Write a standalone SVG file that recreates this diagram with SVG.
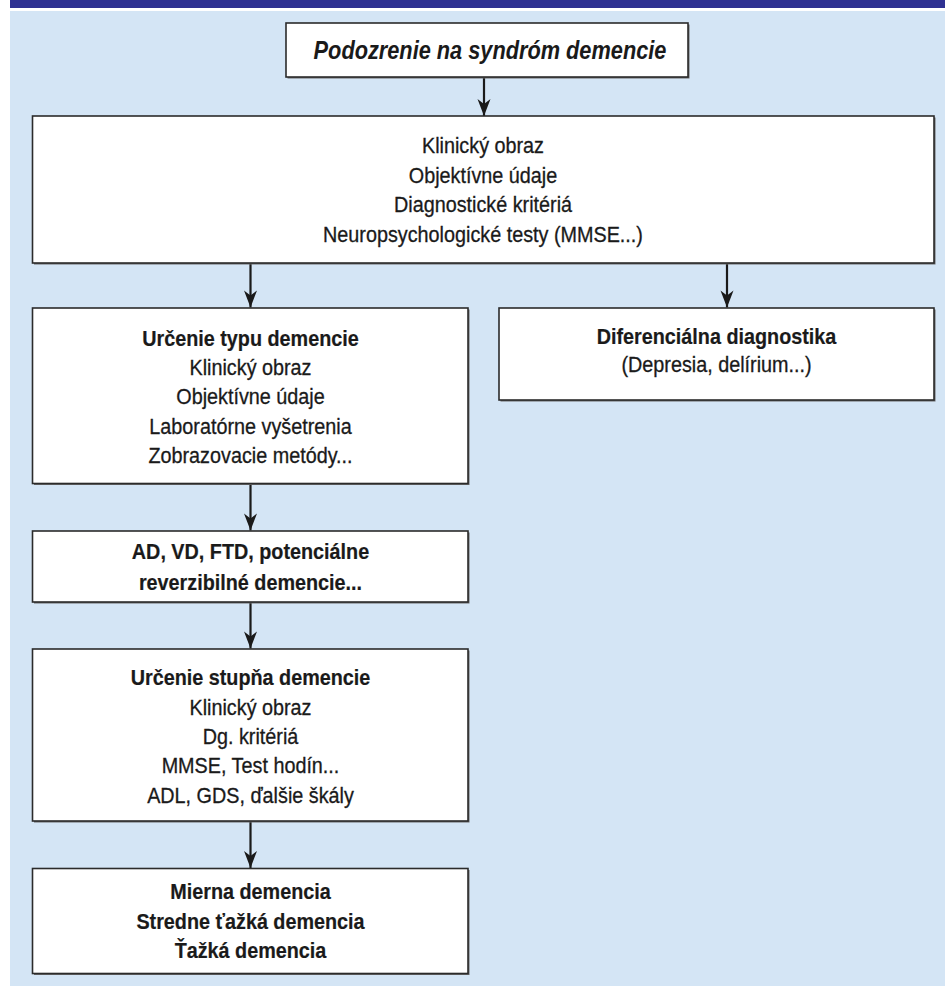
<svg xmlns="http://www.w3.org/2000/svg" width="945" height="987" viewBox="0 0 945 987">
<defs>
<style>
.box{fill:#ffffff;stroke:#2b2b2b;stroke-width:1.6}
.shadow{fill:#6b6b6b}
.t{font-family:"Liberation Sans",Arial,sans-serif;font-size:22px;fill:#1a1a1a;text-anchor:middle;stroke:#1a1a1a;stroke-width:0.3}
.b{font-weight:bold;stroke-width:0.2}
.title{font-family:"Liberation Sans",Arial,sans-serif;font-size:25px;font-weight:bold;font-style:italic;fill:#1a1a1a;text-anchor:middle}
.conn{stroke:#1a1a1a;stroke-width:2.2;fill:none;marker-end:url(#ah)}
</style>
<marker id="ah" markerUnits="userSpaceOnUse" markerWidth="20" markerHeight="16" viewBox="-18 -8 20 16" refX="0" refY="0" orient="auto">
<path d="M0,0 L-17,-6.5 L-12,0 L-17,6.5 Z" fill="#1a1a1a"/>
</marker>
</defs>
<rect x="10" y="0" width="935" height="8" fill="#2e3192"/>
<rect x="10" y="11" width="935" height="975" fill="#d4e5f5"/>

<g id="connectors">
<line class="conn" x1="484" y1="77" x2="484" y2="116"/>
<line class="conn" x1="250.5" y1="263" x2="250.5" y2="307.5"/>
<line class="conn" x1="727" y1="263" x2="727" y2="307.5"/>
<line class="conn" x1="250.5" y1="484" x2="250.5" y2="530.5"/>
<line class="conn" x1="250.5" y1="602" x2="250.5" y2="648.5"/>
<line class="conn" x1="250.5" y1="821" x2="250.5" y2="868"/>
</g>

<g id="n1">
<rect class="shadow" x="287.5" y="24.5" width="402" height="54"/>
<rect class="box" x="286" y="23" width="402" height="54"/>
<g transform="translate(490,59.3) scale(0.87,1)"><text class="title" x="0" y="0">Podozrenie na syndróm demencie</text></g>
</g>

<g id="n2">
<rect class="shadow" x="34" y="117.5" width="901.5" height="147"/>
<rect class="box" x="32.5" y="116" width="901.5" height="147"/>
<g transform="translate(483,0) scale(0.9,1)">
<text class="t" x="0" y="153.5">Klinický obraz</text>
<text class="t" x="0" y="183">Objektívne údaje</text>
<text class="t" x="0" y="212.5">Diagnostické kritériá</text>
<text class="t" x="0" y="242">Neuropsychologické testy (MMSE...)</text>
</g>
</g>

<g id="n3">
<rect class="shadow" x="34" y="309.5" width="435.5" height="175.5"/>
<rect class="box" x="32.5" y="308" width="435.5" height="175.5"/>
<g transform="translate(250.5,0) scale(0.9,1)">
<text class="t b" x="0" y="346">Určenie typu demencie</text>
<text class="t" x="0" y="375">Klinický obraz</text>
<text class="t" x="0" y="404">Objektívne údaje</text>
<text class="t" x="0" y="434">Laboratórne vyšetrenia</text>
<text class="t" x="0" y="463">Zobrazovacie metódy...</text>
</g>
</g>

<g id="n4">
<rect class="shadow" x="500.5" y="309.5" width="435" height="92"/>
<rect class="box" x="499" y="308" width="435" height="92"/>
<g transform="translate(716.5,0) scale(0.9,1)">
<text class="t b" x="0" y="344">Diferenciálna diagnostika</text>
<text class="t" x="0" y="372">(Depresia, delírium...)</text>
</g>
</g>

<g id="n5">
<rect class="shadow" x="34" y="532.5" width="435.5" height="71"/>
<rect class="box" x="32.5" y="531" width="435.5" height="71"/>
<g transform="translate(250.5,0) scale(0.9,1)">
<text class="t b" x="0" y="559.3">AD, VD, FTD, potenciálne</text>
<text class="t b" x="0" y="590">reverzibilné demencie...</text>
</g>
</g>

<g id="n6">
<rect class="shadow" x="34" y="650.5" width="435.5" height="172"/>
<rect class="box" x="32.5" y="649" width="435.5" height="172"/>
<g transform="translate(250.5,0) scale(0.9,1)">
<text class="t b" x="0" y="685">Určenie stupňa demencie</text>
<text class="t" x="0" y="715">Klinický obraz</text>
<text class="t" x="0" y="744">Dg. kritériá</text>
<text class="t" x="0" y="773">MMSE, Test hodín...</text>
<text class="t" x="0" y="803">ADL, GDS, ďalšie škály</text>
</g>
</g>

<g id="n7">
<rect class="shadow" x="34" y="870" width="435.5" height="105"/>
<rect class="box" x="32.5" y="868.5" width="435.5" height="105"/>
<g transform="translate(250.5,0) scale(0.9,1)">
<text class="t b" x="0" y="899">Mierna demencia</text>
<text class="t b" x="0" y="929">Stredne ťažká demencia</text>
<text class="t b" x="0" y="958">Ťažká demencia</text>
</g>
</g>
</svg>
